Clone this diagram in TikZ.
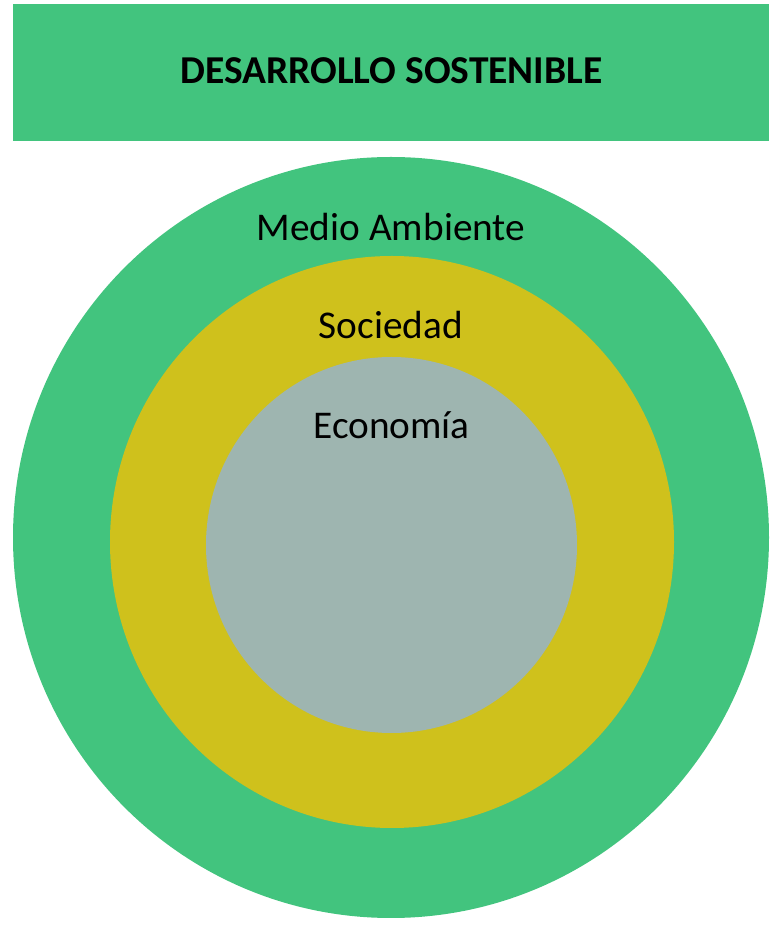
\documentclass[tikz,border=0pt]{standalone}
\usepackage{fontspec}
\setmainfont{Carlito}
\definecolor{envgreen}{HTML}{42C47E}
\definecolor{socyellow}{HTML}{CFC11C}
\definecolor{ecogrey}{HTML}{9EB5B0}
\begin{document}
\begin{tikzpicture}[x=1pt,y=1pt,
  lbl/.style={font=\fontsize{39.3}{45}\selectfont, text=black, anchor=base, inner sep=0pt},
  ttl/.style={font=\fontsize{39.5}{45}\selectfont\bfseries, text=black, anchor=base, inner sep=0pt}]
\useasboundingbox (0,0) rectangle (769,927);
% title band
\fill[envgreen] (13,786) rectangle (769,923);
\node[ttl] (title) at (391.5,843) {DESARROLLO SOSTENIBLE};
% rings
\fill[envgreen] (391,389.5) ellipse [x radius=378, y radius=380.5];
\fill[socyellow] (392,385) ellipse [x radius=282, y radius=286];
\fill[ecogrey] (391.5,382) ellipse [x radius=185.5, y radius=188];
\node[lbl] (env) at (391,686) {Medio Ambiente};
\node[lbl] (soc) at (391,588) {Sociedad};
\node[lbl] (eco) at (391.5,488) {Economía};
\end{tikzpicture}
\end{document}
